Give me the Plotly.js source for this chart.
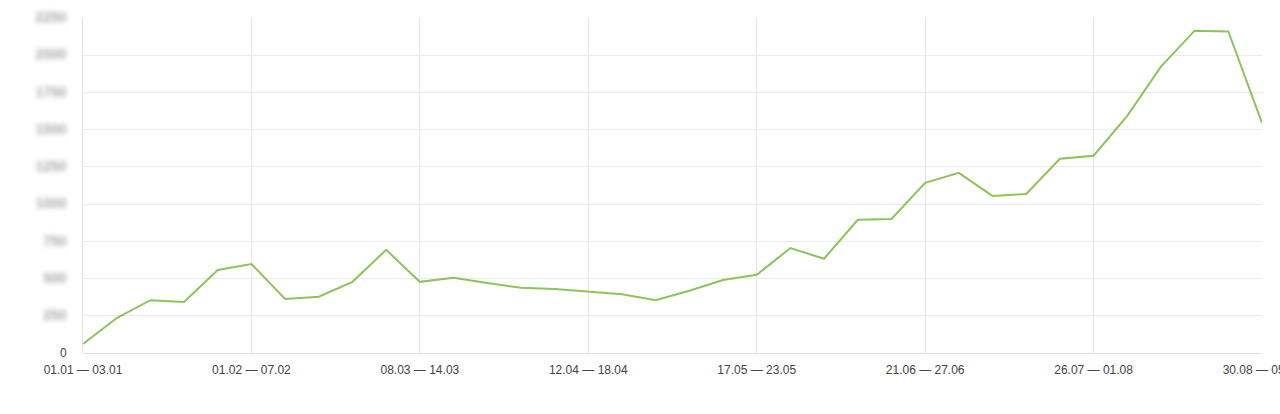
<!DOCTYPE html>
<html>
<head>
<meta charset="utf-8">
<script src="https://cdn.plot.ly/plotly-3.0.1.min.js"></script>
<style>
html, body { margin: 0; padding: 0; background: #fff; }
#chart { width: 1280px; height: 414px; }
</style>
</head>
<body>
<div id="chart"></div>
<script>
const weeks = [
  "01.01 — 03.01", "04.01 — 10.01", "11.01 — 17.01", "18.01 — 24.01", "25.01 — 31.01",
  "01.02 — 07.02", "08.02 — 14.02", "15.02 — 21.02", "22.02 — 28.02", "01.03 — 07.03",
  "08.03 — 14.03", "15.03 — 21.03", "22.03 — 28.03", "29.03 — 04.04", "05.04 — 11.04",
  "12.04 — 18.04", "19.04 — 25.04", "26.04 — 02.05", "03.05 — 09.05", "10.05 — 16.05",
  "17.05 — 23.05", "24.05 — 30.05", "31.05 — 06.06", "07.06 — 13.06", "14.06 — 20.06",
  "21.06 — 27.06", "28.06 — 04.07", "05.07 — 11.07", "12.07 — 18.07", "19.07 — 25.07",
  "26.07 — 01.08", "02.08 — 08.08", "09.08 — 15.08", "16.08 — 22.08", "23.08 — 29.08",
  "30.08 — 05.09"
];
const values = [
  60, 235, 355, 343, 558, 598, 363, 378, 478, 693,
  478, 505, 470, 438, 430, 410, 395, 355, 418, 490,
  525, 705, 633, 895, 900, 1143, 1210, 1055, 1068, 1305,
  1325, 1593, 1923, 2165, 2160, 1545
];
const xTickLabels = weeks.filter((w, i) => i % 5 === 0);
const yTickValues = [0, 250, 500, 750, 1000, 1250, 1500, 1750, 2000, 2250];

const trace = {
  x: weeks,
  y: values,
  type: "scatter",
  mode: "lines",
  line: { color: "#8cc45c", width: 2 },
  hoverinfo: "x+y"
};

const layout = {
  width: 1280,
  height: 414,
  margin: { l: 83, r: 18, t: 18, b: 61 },
  paper_bgcolor: "#ffffff",
  plot_bgcolor: "#ffffff",
  showlegend: false,
  font: { family: "Liberation Sans, Arial, sans-serif", size: 12, color: "#444" },
  xaxis: {
    type: "category",
    range: [0, weeks.length - 1],
    tickmode: "array",
    tickvals: xTickLabels,
    ticktext: xTickLabels,
    tickangle: 0,
    showgrid: true,
    gridcolor: "#e6e6e6",
    gridwidth: 1,
    zeroline: false,
    showline: false,
    ticks: "",
    ticklabelstandoff: 8,
    tickfont: { size: 12, color: "#444" },
    fixedrange: true
  },
  yaxis: {
    range: [0, 2250],
    tickmode: "array",
    tickvals: yTickValues,
    ticktext: yTickValues.map(String),
    showgrid: true,
    gridcolor: "#ebebeb",
    gridwidth: 1,
    zeroline: true,
    zerolinecolor: "#e0e0e0",
    zerolinewidth: 1,
    showline: true,
    linecolor: "#e3e3e3",
    linewidth: 1,
    ticks: "",
    ticklabelstandoff: 13,
    tickfont: { size: 12, color: "#444" },
    fixedrange: true
  }
};

Plotly.newPlot("chart", [trace], layout, { displayModeBar: false, staticPlot: true }).then(function () {
  document.querySelectorAll(".ytick text").forEach(function (t) {
    if (t.textContent !== "0") {
      t.style.fontSize = "14px";
      t.style.fontWeight = "bold";
      t.style.filter = "blur(2.5px)";
      t.style.fill = "#aaa";
    }
  });
});
</script>
</body>
</html>
